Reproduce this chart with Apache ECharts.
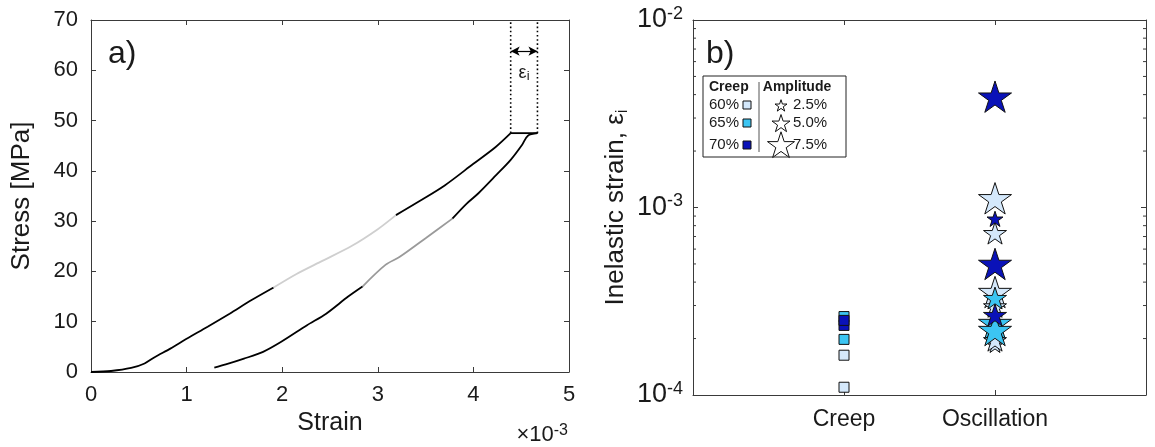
<!DOCTYPE html>
<html><head><meta charset="utf-8">
<script src="https://cdn.jsdelivr.net/npm/echarts@6/dist/echarts.min.js"></script>
<style>html,body{margin:0;padding:0;background:#fff}#c{width:1155px;height:447px}</style>
</head><body><div id="c"></div>
<script>
// ---------- Panel a) data: strain (x10^-3) and stress (MPa) ----------
const xTicksA = [0,1,2,3,4,5];
const yTicksA = [0,10,20,30,40,50,60,70];
const loadStrainA = [0,0.21,0.42,0.56,0.67,0.83,1.0,1.22,1.45,1.68,1.91];
const loadStressA = [0,0.2,0.8,1.7,3.0,4.65,6.6,9.0,11.6,14.3,16.8];
const loadStrainB = [1.91,2.15,2.42,2.73,3.0,3.19];
const loadStressB = [16.8,19.5,22.1,25.1,28.4,31.2];
const loadStrainC = [3.19,3.42,3.70,4.0,4.23,4.39];
const loadStressC = [31.2,33.8,37.1,41.4,44.7,47.5];
const plateauStrain = [4.39,4.67];
const plateauStress = [47.5,47.5];
const unloadStrainA = [4.67,4.57,4.51,4.39,4.24,4.05,3.93,3.78];
const unloadStressA = [47.5,47.0,45.2,42.2,39.2,35.5,33.5,30.5];
const unloadStrainB = [3.78,3.50,3.23,3.08,2.84];
const unloadStressB = [30.5,26.6,22.9,21.3,17.0];
const unloadStrainC = [2.84,2.69,2.46,2.26,1.99,1.80,1.60,1.41,1.29];
const unloadStressC = [17.0,15.0,11.6,9.3,6.0,4.0,2.65,1.5,0.86];
const epsBounds = [4.39,4.67];   // inelastic strain marker (x10^-3)
const epsTopStress = 70;
const epsArrowStress = 63.8;

// ---------- Panel b) data ----------
const categories = ['Creep','Oscillation'];
const creepValues = [1.10e-4,1.63e-4,1.98e-4,2.62e-4,2.35e-4,2.50e-4];
const creepLevel  = [60,60,65,65,70,70];
const oscValues    = [1.85e-4,1.96e-4,3.54e-4,2.97e-4,2.42e-4,2.22e-4,3.29e-4,2.67e-4,5.0e-4,7.3e-4,1.12e-3,8.7e-4,3.9e-3];
const oscLevel     = [60,60,60,60,65,65,65,70,70,60,60,70,70];
const oscAmplitude = [2.5,5.0,7.5,5.0,7.5,7.5,5.0,5.0,7.5,5.0,7.5,2.5,7.5];
const levelLabels = ['60%','65%','70%'];
const amplitudeLabels = ['2.5%','5.0%','7.5%'];

// ---------- styles ----------
const FONT = '"Liberation Sans", Arial, Helvetica, sans-serif';
const AX = '#3a3a3a';
const TXT = '#1a1a1a';
const levelColor = {60:'#d4e8fb', 65:'#3cc5f2', 70:'#0a12b8'};
const ampSize = {2.5:16, 5.0:23, 7.5:33};

function starPts(cx,cy,R){const p=[];for(let i=0;i<10;i++){const r=i%2?R*0.382:R;const a=-Math.PI/2+i*Math.PI/5;p.push([cx+r*Math.cos(a),cy+r*Math.sin(a)]);}return p;}
const starPath = 'path://' + starPts(0,0,100).map((p,i)=>(i?'L':'M')+p[0].toFixed(2)+' '+p[1].toFixed(2)).join(' ')+' Z';

const pairs = (xs, ys) => xs.map((x,i)=>[x, ys[i]]);
function curve(xs, ys, color){
  return {type:'line', xAxisIndex:0, yAxisIndex:0, data:pairs(xs,ys), symbol:'none', smooth:0.3,
    lineStyle:{color:color, width:1.8}, silent:true, animation:false, z:3};
}
function ax(extra){
  return Object.assign({
    axisLine:{onZero:false, lineStyle:{color:AX, width:1}},
    axisTick:{inside:true, length:5, lineStyle:{color:AX, width:1}},
    splitLine:{show:false}, minorTick:{show:false}
  }, extra);
}
const creepX = categories.indexOf('Creep') + 1;
const oscX = categories.indexOf('Oscillation') + 1;
const minorVals = [];
[-4,-3].forEach(d=>{for(let k=2;k<=9;k++) minorVals.push(k*Math.pow(10,d));});

const option = {
  animation:false,
  backgroundColor:'#fff',
  grid:[
    {left:91, top:20, width:478, height:352},
    {left:693, top:20, width:453, height:375}
  ],
  xAxis:[
    ax({gridIndex:0, type:'value', min:xTicksA[0], max:xTicksA[xTicksA.length-1], interval:1, position:'bottom',
      axisLabel:{fontSize:22, color:TXT, margin:12, fontFamily:FONT},
      name:'Strain', nameLocation:'middle', nameGap:36,
      nameTextStyle:{fontSize:25, color:TXT, fontFamily:FONT}}),
    ax({gridIndex:0, type:'value', min:0, max:5, interval:1, position:'top', axisLabel:{show:false}}),
    ax({gridIndex:1, type:'value', min:0, max:categories.length+1, interval:1, position:'bottom',
      axisLabel:{fontSize:23, color:TXT, margin:13, fontFamily:FONT,
        formatter:v=>(v>=1 && v<=categories.length)?categories[v-1]:''}}),
    ax({gridIndex:1, type:'value', min:0, max:categories.length+1, interval:1, position:'top', axisLabel:{show:false}})
  ],
  yAxis:[
    ax({gridIndex:0, type:'value', min:yTicksA[0], max:yTicksA[yTicksA.length-1], interval:10, position:'left',
      axisLabel:{fontSize:22, color:TXT, margin:13, fontFamily:FONT},
      name:'Stress [MPa]', nameLocation:'middle', nameGap:56, nameRotate:90,
      nameTextStyle:{fontSize:26, color:TXT, fontFamily:FONT}}),
    ax({gridIndex:0, type:'value', min:0, max:70, interval:10, position:'right', axisLabel:{show:false}}),
    ax({gridIndex:1, type:'log', logBase:10, min:1e-4, max:1e-2, position:'left',
      axisLabel:{margin:10, fontFamily:FONT, color:TXT,
        formatter:v=>'{b|10}{s|'+Math.round(Math.log10(v))+'}',
        rich:{b:{fontSize:27, lineHeight:30, fontFamily:FONT, color:TXT},
              s:{fontSize:18, lineHeight:8, verticalAlign:'top', fontFamily:FONT, color:TXT}}},
      name:'{n|Inelastic strain, ε}{i|i}', nameLocation:'middle', nameGap:62, nameRotate:90,
      nameTextStyle:{rich:{n:{fontSize:26, lineHeight:30, fontFamily:FONT, color:TXT},
                           i:{fontSize:17, lineHeight:16, verticalAlign:'bottom', fontFamily:FONT, color:TXT}}}}),
    ax({gridIndex:1, type:'log', logBase:10, min:1e-4, max:1e-2, position:'right', axisLabel:{show:false}})
  ],
  series:[
    curve(loadStrainA, loadStressA, '#000'),
    curve(loadStrainB, loadStressB, '#cfcfcf'),
    curve(loadStrainC, loadStressC, '#000'),
    curve(plateauStrain, plateauStress, '#000'),
    curve(unloadStrainA, unloadStressA, '#000'),
    curve(unloadStrainB, unloadStressB, '#9a9a9a'),
    curve(unloadStrainC, unloadStressC, '#000'),
    {type:'line', xAxisIndex:0, yAxisIndex:0, data:[[epsBounds[0],plateauStress[0]],[epsBounds[0],epsTopStress]],
      symbol:'none', lineStyle:{color:'#000', width:1.6, type:[1.6,2.6]}, silent:true},
    {type:'line', xAxisIndex:0, yAxisIndex:0, data:[[epsBounds[1],plateauStress[1]],[epsBounds[1],epsTopStress]],
      symbol:'none', lineStyle:{color:'#000', width:1.6, type:[1.6,2.6]}, silent:true,
      markLine:{silent:true, symbol:['arrow','arrow'], symbolSize:[7,9], label:{show:false},
        lineStyle:{color:'#000', width:1.2, type:'solid'},
        data:[[{coord:[epsBounds[0],epsArrowStress]},{coord:[epsBounds[1],epsArrowStress]}]]}},
    {type:'custom', xAxisIndex:2, yAxisIndex:2, silent:true, clip:false,
      data:minorVals.map(v=>[0,v]),
      renderItem:(params, api)=>{
        const v = api.value(1);
        const pL = api.coord([0, v]);
        const pR = api.coord([categories.length+1, v]);
        return {type:'group', children:[
          {type:'line', shape:{x1:pL[0], y1:pL[1], x2:pL[0]+3, y2:pL[1]}, style:{stroke:AX, lineWidth:1}},
          {type:'line', shape:{x1:pR[0], y1:pR[1], x2:pR[0]-3, y2:pR[1]}, style:{stroke:AX, lineWidth:1}}
        ]};
      }},
    {type:'scatter', xAxisIndex:2, yAxisIndex:2, symbol:'rect', symbolSize:10, z:4,
      itemStyle:{borderColor:'#111', borderWidth:1, opacity:1},
      data:creepValues.map((v,i)=>({value:[creepX, v], itemStyle:{color:levelColor[creepLevel[i]], opacity:1}}))},
    {type:'scatter', xAxisIndex:2, yAxisIndex:2, symbol:starPath, symbolKeepAspect:true, z:4,
      itemStyle:{borderColor:'#111', borderWidth:1, opacity:1},
      data:oscValues.map((v,i)=>({value:[oscX, v], symbolSize:ampSize[oscAmplitude[i]],
        itemStyle:{color:levelColor[oscLevel[i]], opacity:1}}))}
  ]
};
const chart = echarts.init(document.getElementById('c'));
chart.setOption(option);

// annotations
const epsPos = chart.convertToPixel({gridIndex:0}, [(epsBounds[0]+epsBounds[1])/2, 59.5]);
function legendStar(cx, cy, w){
  const R = w/1.902;
  return {type:'polygon', shape:{points:starPts(cx, cy, R)}, style:{fill:'#fff', stroke:'#111', lineWidth:1}};
}
const lg = {x:703, y:76, w:143, h:81};
const rowY = [105, 123, 145];
const starSizes = [12, 18, 27];
const legendChildren = [
  {type:'rect', shape:{x:lg.x, y:lg.y, width:lg.w, height:lg.h}, style:{fill:'#fff', stroke:'#222', lineWidth:1}},
  {type:'text', x:709, y:87, style:{text:'Creep', font:'bold 14px '+FONT, fill:TXT, verticalAlign:'middle'}},
  {type:'text', x:797, y:87, style:{text:'Amplitude', font:'bold 14px '+FONT, fill:TXT, align:'center', verticalAlign:'middle'}},
  {type:'line', shape:{x1:759, y1:82, x2:759, y2:152}, style:{stroke:'#555', lineWidth:1}}
];
levelLabels.forEach((t,i)=>{
  legendChildren.push({type:'text', x:709, y:rowY[i], style:{text:t, font:'15px '+FONT, fill:TXT, verticalAlign:'middle'}});
  legendChildren.push({type:'rect', shape:{x:743, y:rowY[i]-4, width:8, height:8},
    style:{fill:levelColor[[60,65,70][i]], stroke:'#111', lineWidth:1}});
});
amplitudeLabels.forEach((t,i)=>{
  legendChildren.push(legendStar(781, rowY[i]+1, starSizes[i]));
  legendChildren.push({type:'text', x:793, y:rowY[i], style:{text:t, font:'15px '+FONT, fill:TXT, verticalAlign:'middle'}});
});

chart.setOption({graphic:[
  {type:'text', x:108, y:38, style:{text:'a)', font:'32px '+FONT, fill:TXT, verticalAlign:'top'}},
  {type:'text', x:706, y:38, style:{text:'b)', font:'32px '+FONT, fill:TXT, verticalAlign:'top'}},
  {type:'text', x:epsPos[0], y:epsPos[1], style:{text:'{e|ε}{s|i}', align:'center', verticalAlign:'middle',
    rich:{e:{fontSize:18, lineHeight:20, fontFamily:FONT, fill:TXT}, s:{fontSize:13, lineHeight:12, verticalAlign:'bottom', fontFamily:FONT, fill:TXT}}}},
  {type:'text', x:568, y:447, style:{text:'{t|×10}{s|-3}', align:'right', verticalAlign:'bottom',
    rich:{t:{fontSize:22, lineHeight:24, fontFamily:FONT, fill:TXT}, s:{fontSize:16, lineHeight:12, verticalAlign:'top', fontFamily:FONT, fill:TXT}}}},
  {type:'group', children:legendChildren}
]});
</script></body></html>
